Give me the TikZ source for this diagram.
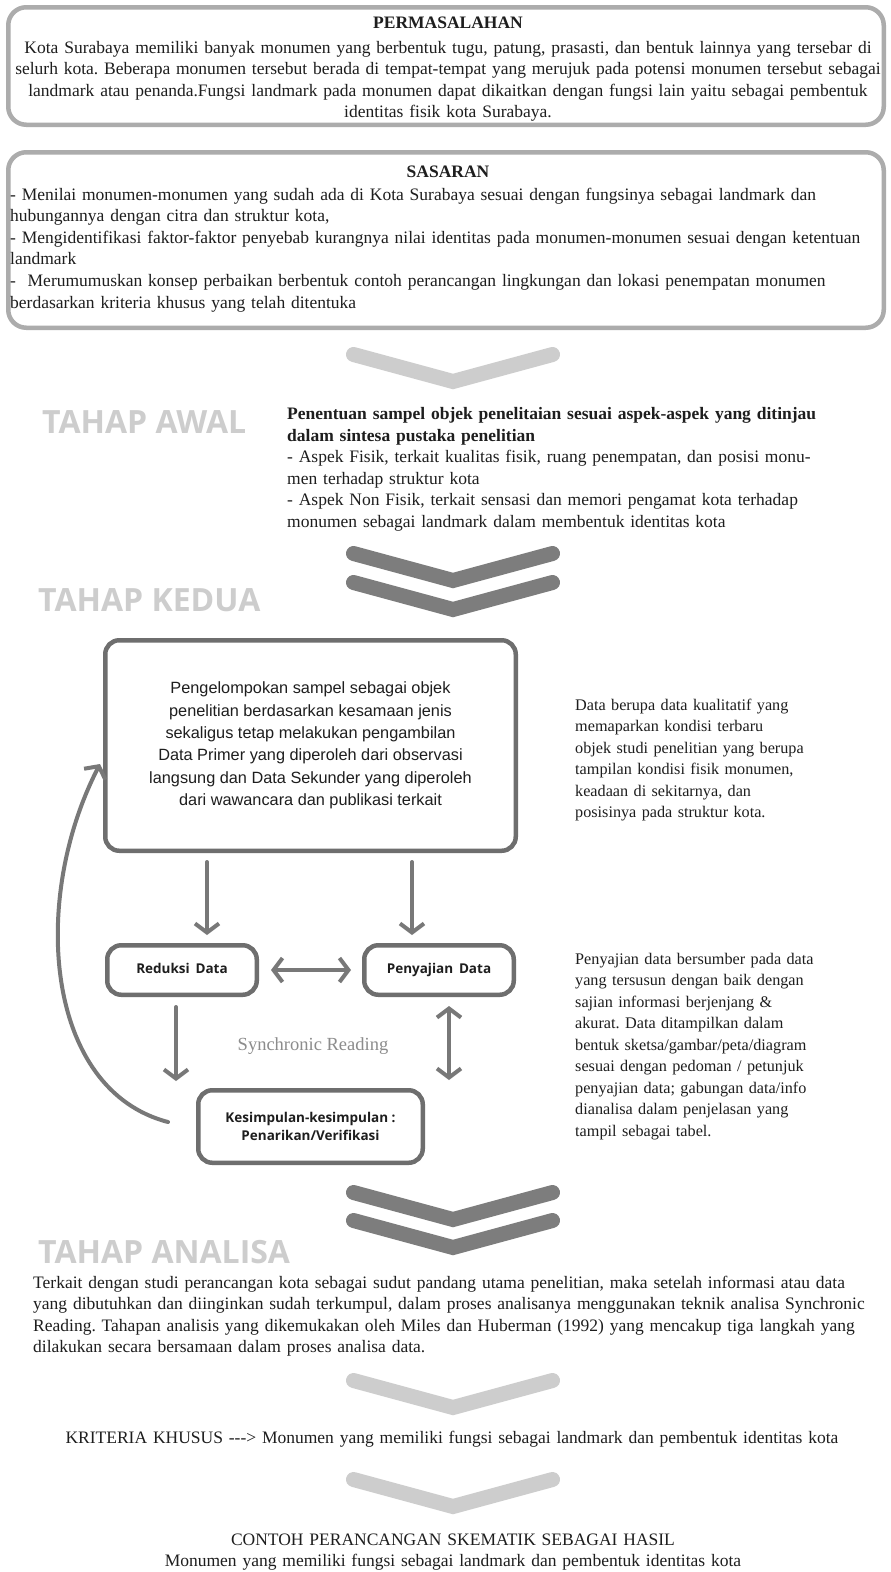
\documentclass[tikz,border=0pt]{standalone}
\usepackage{fontspec}
\setmainfont{Liberation Serif}
\newfontfamily\osans{Open Sans}
\newfontfamily\arialf{Liberation Sans}
\usetikzlibrary{arrows.meta,calc}
\definecolor{txt}{RGB}{30,30,30}
\definecolor{topgr}{RGB}{172,172,172}
\definecolor{chevLc}{RGB}{205,205,205}
\definecolor{chevDc}{RGB}{125,125,125}
\definecolor{boxDc}{RGB}{110,110,110}
\definecolor{arrc}{RGB}{120,120,120}
\definecolor{tahapc}{RGB}{205,205,205}
\definecolor{syncc}{RGB}{140,140,140}
\frenchspacing
\begin{document}
\begin{tikzpicture}[x=1pt,y=-1pt,
  serif/.style={font=\frenchspacing\fontsize{17.5}{21.6}\selectfont, text=txt, inner sep=0pt},
  lpara/.style={serif, text width=#1, align=left, anchor=base west},
  cpara/.style={serif, text width=#1, align=center, anchor=base},
  rtext/.style={font=\frenchspacing\fontsize{16.2}{21.5}\selectfont, text=txt, inner sep=0pt, text width=310pt, align=left, anchor=base west},
  tahap/.style={font=\osans\bfseries\fontsize{32}{32}\selectfont, text=tahapc, inner sep=0pt, anchor=base west},
  topbox/.style={draw=topgr, line width=4.5pt, rounded corners=18pt, inner sep=0pt},
  dbox/.style={draw=boxDc, line width=4.5pt, rounded corners=14pt, inner sep=0pt, align=center, text=txt},
  smallbold/.style={font=\osans\bfseries\fontsize{13.5}{18}\selectfont},
  chevL/.style={draw=chevLc, line width=15pt, line cap=round, line join=miter},
  chevD/.style={draw=chevDc, line width=15pt, line cap=round, line join=miter},
  arr/.style={draw=arrc, line width=4pt, line cap=round, -{Straight Barb[length=9pt,width=24pt]}},
  darr/.style={draw=arrc, line width=4pt, line cap=round, {Straight Barb[length=9pt,width=24pt]}-{Straight Barb[length=9pt,width=24pt]}}
]
\fill[white] (0,0) rectangle (891,1572);
\useasboundingbox (0,0) rectangle (891,1572);

% ---------- PERMASALAHAN ----------
\node[topbox, minimum width=875.5pt, minimum height=117.5pt] (b1) at (446,66) {};
\node[cpara=880pt] (b1t) at (448,28) {\bfseries PERMASALAHAN};
\node[cpara=884pt] (b1p) at (448,53) {Kota Surabaya memiliki banyak monumen yang berbentuk tugu, patung, prasasti, dan bentuk lainnya yang tersebar di\\
selurh kota. Beberapa monumen tersebut berada di tempat-tempat yang merujuk pada potensi monumen tersebut sebagai\\
landmark atau penanda.Fungsi landmark pada monumen dapat dikaitkan dengan fungsi lain yaitu sebagai pembentuk\\
identitas fisik kota Surabaya.};

% ---------- SASARAN ----------
\node[topbox, minimum width=875.5pt, minimum height=175.5pt] (b2) at (446,240) {};
\node[cpara=880pt] (b2t) at (448,177) {\bfseries SASARAN};
\node[lpara=880pt] (b2p) at (10,200) {- Menilai monumen-monumen yang sudah ada di Kota Surabaya sesuai dengan fungsinya sebagai landmark dan\\
hubungannya dengan citra dan struktur kota,\\
- Mengidentifikasi faktor-faktor penyebab kurangnya nilai identitas pada monumen-monumen sesuai dengan ketentuan\\
landmark\\
-\ \ Merumumuskan konsep perbaikan berbentuk contoh perancangan lingkungan dan lokasi penempatan monumen\\
berdasarkan kriteria khusus yang telah ditentuka};

% ---------- chevrons ----------
\draw[chevL] (353.5,354.5) -- (453,381.5) -- (552.5,354.5);
\draw[chevD] (353.5,553.5) -- (453,580.5) -- (552.5,553.5);
\draw[chevD] (353.5,582.5) -- (453,609.5) -- (552.5,582.5);
\draw[chevD] (353.5,1192.5) -- (453,1219.5) -- (552.5,1192.5);
\draw[chevD] (353.5,1220.5) -- (453,1247.5) -- (552.5,1220.5);
\draw[chevL] (353.5,1380.5) -- (453,1407.5) -- (552.5,1380.5);
\draw[chevL] (353.5,1479.5) -- (453,1506.5) -- (552.5,1479.5);

% ---------- TAHAP AWAL ----------
\node[tahap] (ta) at (42,433) {TAHAP AWAL};
\node[lpara=534pt] (tap) at (287,419.5) {\makebox[534pt][s]{\bfseries Penentuan sampel objek penelitaian sesuai aspek-aspek yang ditinjau}\\
\textbf{dalam sintesa pustaka penelitian}\\
\makebox[534pt][s]{- Aspek Fisik, terkait kualitas fisik, ruang penempatan, dan posisi monu-}\\
men terhadap struktur kota\\
\makebox[534pt][s]{- Aspek Non Fisik, terkait sensasi dan memori pengamat kota terhadap}\\
monumen sebagai landmark dalam membentuk identitas kota};

% ---------- TAHAP KEDUA ----------
\node[tahap] (tk) at (38,611) {TAHAP KEDUA};

\node[dbox, minimum width=410.5pt, minimum height=210.5pt, font=\arialf\fontsize{16.3}{22.3}\selectfont] (pk) at (310.5,745.5) {Pengelompokan sampel sebagai objek\\
penelitian berdasarkan kesamaan jenis\\
sekaligus tetap melakukan pengambilan\\
Data Primer yang diperoleh dari observasi\\
langsung dan Data Sekunder yang diperoleh\\
dari wawancara dan publikasi terkait};

\node[rtext] (r1) at (575,710) {Data berupa data kualitatif yang\\
memaparkan kondisi terbaru\\
objek studi penelitian yang berupa\\
tampilan kondisi fisik monumen,\\
keadaan di sekitarnya, dan\\
posisinya pada struktur kota.};

\node[dbox, smallbold, text height=10pt, text depth=3.5pt, minimum width=149.5pt, minimum height=49.5pt] (rd) at (182,970) {Reduksi\ \,Data};
\node[dbox, smallbold, text height=10pt, text depth=3.5pt, minimum width=149.5pt, minimum height=49.5pt] (pe) at (439,970) {Penyajian\ \,Data};
\node[dbox, smallbold, minimum width=224.5pt, minimum height=72.5pt] (ks) at (310.5,1126.5) {Kesimpulan-kesimpulan :\\Penarikan/Verifikasi};

\node[font=\fontsize{18.5}{20}\selectfont, text=syncc, inner sep=0pt, anchor=base] (sr) at (313,1050) {Synchronic Reading};

\node[rtext] (r2) at (575,964) {Penyajian data bersumber pada data\\
yang tersusun dengan baik dengan\\
sajian informasi berjenjang \&\\
akurat. Data ditampilkan dalam\\
bentuk sketsa/gambar/peta/diagram\\
sesuai dengan pedoman / petunjuk\\
penyajian data; gabungan data/info\\
dianalisa dalam penjelasan yang\\
tampil sebagai tabel.};

% connectors
\draw[arr, shorten <=9pt, shorten >=8pt] ([xshift=25pt]rd.north |- pk.south) -- ([xshift=25pt]rd.north);
\draw[arr, shorten <=9pt, shorten >=8pt] ([xshift=-27pt]pe.north |- pk.south) -- ([xshift=-27pt]pe.north);
\draw[darr, shorten <=12pt, shorten >=11pt] (rd.east) -- (pe.west);
\draw[arr, shorten <=10pt, shorten >=7pt] ([xshift=-6pt]rd.south) -- ([xshift=-6pt]rd.south |- ks.north);
\draw[darr, shorten <=9pt, shorten >=8pt] ([xshift=10pt]pe.south) -- ([xshift=10pt]pe.south |- ks.north);
\coordinate (cv) at (100,764);
\draw[arr] ([xshift=-28pt,yshift=4.5pt]ks.west) .. controls (45,1090) and (30,900) .. (cv);

% ---------- TAHAP ANALISA ----------
\node[tahap] (tn) at (38,1263) {TAHAP ANALISA};
\node[lpara=850pt] (tnp) at (33,1288) {Terkait dengan studi perancangan kota sebagai sudut pandang utama penelitian, maka setelah informasi atau data\\
yang dibutuhkan dan diinginkan sudah terkumpul, dalam proses analisanya menggunakan teknik analisa Synchronic\\
Reading. Tahapan analisis yang dikemukakan oleh Miles dan Huberman (1992) yang mencakup tiga langkah yang\\
dilakukan secara bersamaan dalam proses analisa data.};

\node[cpara=880pt] (kk) at (452,1443) {KRITERIA KHUSUS -{}-{}-> Monumen yang memiliki fungsi sebagai landmark dan pembentuk identitas kota};
\node[cpara=880pt] (ct) at (453,1545) {CONTOH PERANCANGAN SKEMATIK SEBAGAI HASIL\\
Monumen yang memiliki fungsi sebagai landmark dan pembentuk identitas kota};
\end{tikzpicture}
\end{document}
